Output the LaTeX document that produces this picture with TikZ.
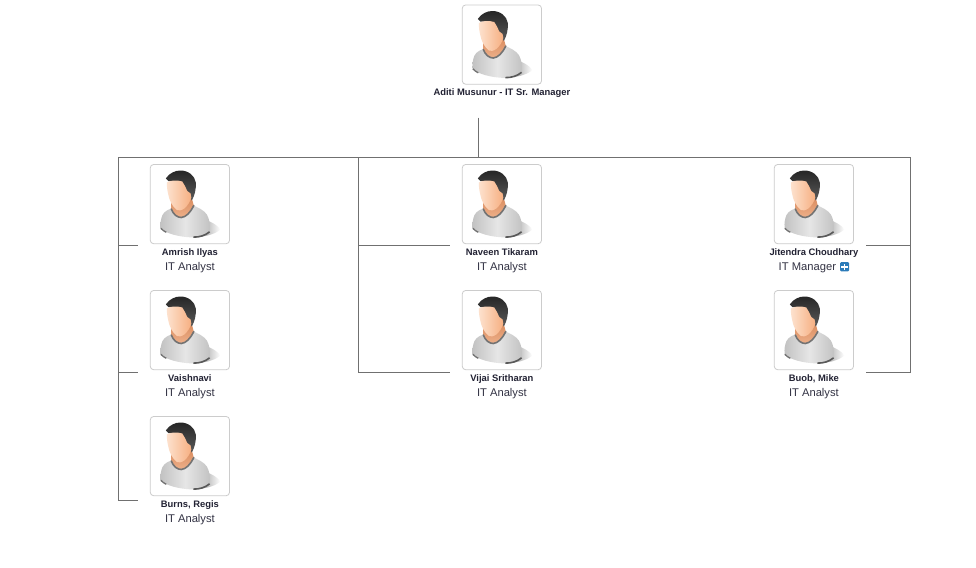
\documentclass[tikz,border=0pt]{standalone}
\usepackage{fontspec}
\setmainfont{Liberation Sans}
\usetikzlibrary{positioning}
\definecolor{linec}{HTML}{707070}
\definecolor{boxc}{HTML}{CCCCCC}
\definecolor{namec}{HTML}{222233}
\definecolor{rolec}{HTML}{333344}
\definecolor{plusc}{HTML}{2B7BB9}
\definecolor{skinl}{HTML}{FDE2CE}
\definecolor{skinr}{HTML}{F6AE80}
\definecolor{neckt}{HTML}{D98A5C}
\definecolor{neckb}{HTML}{EDB08A}
\definecolor{shirtt}{HTML}{E6E6E6}
\definecolor{shirtb}{HTML}{C2C2C2}
\tikzset{
  x=0.75pt,y=-0.75pt,
  conn/.style={draw=linec,line width=0.75pt},
  photobox/.style={draw=boxc,line width=0.6pt,fill=white,rounded corners=2.5pt,minimum width=59.4pt,minimum height=59.4pt,inner sep=0pt,outer sep=0pt,anchor=north west},
  pname/.style={font=\bfseries\fontsize{7.05pt}{8pt}\selectfont,text=namec,inner sep=0pt,anchor=center},
  prole/.style={font=\fontsize{8.4pt}{10pt}\selectfont,text=rolec,inner sep=0pt,anchor=center},
  pics/avatar/.style={code={
    % shadow
    \path[left color=black!38,right color=white] (54,55) .. controls (60,57) and (67,60) .. (70,65) .. controls (66,69) and (56,72) .. (50,72) -- cycle;
    % body
    \path[left color=shirtb,right color=shirtb,middle color=shirtt] (21,44) .. controls (15,46) and (12,49) .. (11,54) .. controls (10,58) and (10,62) .. (10.5,64)
      .. controls (16,69) and (28,72.5) .. (43,73) .. controls (50,73) and (56,71) .. (59.5,67) .. controls (60,60) and (59,54) .. (56.5,50) .. controls (54,46) and (48,43) .. (42,40.5) -- cycle;
    % dark hems
    \draw[black!55,line width=1pt] (10.6,63.8) .. controls (12,65.5) and (14,66.8) .. (16,67.8);
    \draw[black!65,line width=1.2pt] (43,72.6) .. controls (49,72.8) and (55,71) .. (59.3,67.3);
    % neck
    \path[top color=neckt,bottom color=neckb] (21,38) -- (41,32) -- (43.5,41) .. controls (40,48) and (36,52.5) .. (31,53) .. controls (27,53) and (22.5,49) .. (21,44) -- cycle;
    % collar
    \draw[black!55,line width=1.2pt,line cap=round] (21,44.5) .. controls (23,50) and (27,53) .. (31,53) .. controls (36,52.5) and (40,48) .. (43.5,41);
    % hair
    \path[top color=black!85,bottom color=black!65] (15.5,14) .. controls (19,8.5) and (25,6) .. (30,6) .. controls (38,6) and (44.5,11) .. (45.5,18) .. controls (46,24) and (44.5,31) .. (41.5,36) -- (36,26) -- (31,17) -- (18,16.5) -- cycle;
    % face
    \path[left color=skinl,right color=skinr] (16.6,18) .. controls (20,15.5) and (27,15.5) .. (32,17) .. controls (34,20) and (35.5,23) .. (37,26.5)
      .. controls (40,27.5) and (41.5,30) .. (41,33) .. controls (40,37) and (37.5,41) .. (34,44) .. controls (31,46) and (28.5,46.5) .. (26.5,45.5) .. controls (22,42) and (19,36) .. (18,30) .. controls (17,26) and (16.4,22) .. (16.6,18) -- cycle;
  }}
}
\newcommand{\person}[5]{% id, x, y, name, role
  \node[photobox] (#1) at (#2,#3) {};
  \pic at (#1.north west) {avatar};
  \node[pname] (#1n) at ([yshift=-6.7pt]#1.south) {#4};
  \node[prole] (#1r) at ([yshift=-17.9pt]#1.south) {#5};
}
\begin{document}
\begin{tikzpicture}
\useasboundingbox[fill=white] (0,0) rectangle (976,568);
\person{am}{462.3}{5}{Aditi Musunur - IT Sr. Manager}{}
\person{ai}{150.3}{164.5}{Amrish Ilyas}{IT Analyst}
\person{va}{150.3}{290.5}{Vaishnavi}{IT Analyst}
\person{br}{150.3}{416.5}{Burns, Regis}{IT Analyst}
\person{nt}{462.3}{164.5}{Naveen Tikaram}{IT Analyst}
\person{vs}{462.3}{290.5}{Vijai Sritharan}{IT Analyst}
\person{jc}{774.3}{164.5}{Jitendra Choudhary}{IT Manager\rule{9.8pt}{0pt}}
\person{bm}{774.3}{290.5}{Buob, Mike}{IT Analyst}
% plus icon
\node[fill=plusc,rounded corners=0.8pt,minimum size=6.8pt,inner sep=0pt] (plus) at ([xshift=-3.6pt,yshift=0.6pt]jcr.east) {};
\draw[white,line width=1.3pt] ([xshift=-2.4pt]plus.center) -- ([xshift=2.4pt]plus.center);
\draw[white,line width=1.3pt] ([yshift=-2.4pt]plus.center) -- ([yshift=2.4pt]plus.center);
% connectors
\coordinate (top) at (478,117.5);
\coordinate (bus) at (478,157);
\coordinate (busl) at (118,157);
\coordinate (busm) at (358.5,157);
\coordinate (busr) at (910.5,157);
\coordinate (sai) at ([yshift=-1pt,xshift=-9pt]ai.south west);
\coordinate (sva) at ([yshift=-2pt,xshift=-9pt]va.south west);
\coordinate (sbr) at ([yshift=-3.4pt,xshift=-9pt]br.south west);
\coordinate (snt) at ([yshift=-1pt,xshift=-9pt]nt.south west);
\coordinate (svs) at ([yshift=-2pt,xshift=-9pt]vs.south west);
\coordinate (sjc) at ([yshift=-1pt,xshift=9pt]jc.south east);
\coordinate (sbm) at ([yshift=-2pt,xshift=9pt]bm.south east);
\draw[conn] (top) -- (bus);
\draw[conn] (busl) -- (busr);
\draw[conn] (busl) |- (sai);
\draw[conn] (busl) |- (sva);
\draw[conn] (busl) |- (sbr);
\draw[conn] (busm) |- (snt);
\draw[conn] (busm) |- (svs);
\draw[conn] (busr) |- (sjc);
\draw[conn] (busr) |- (sbm);
\end{tikzpicture}
\end{document}
